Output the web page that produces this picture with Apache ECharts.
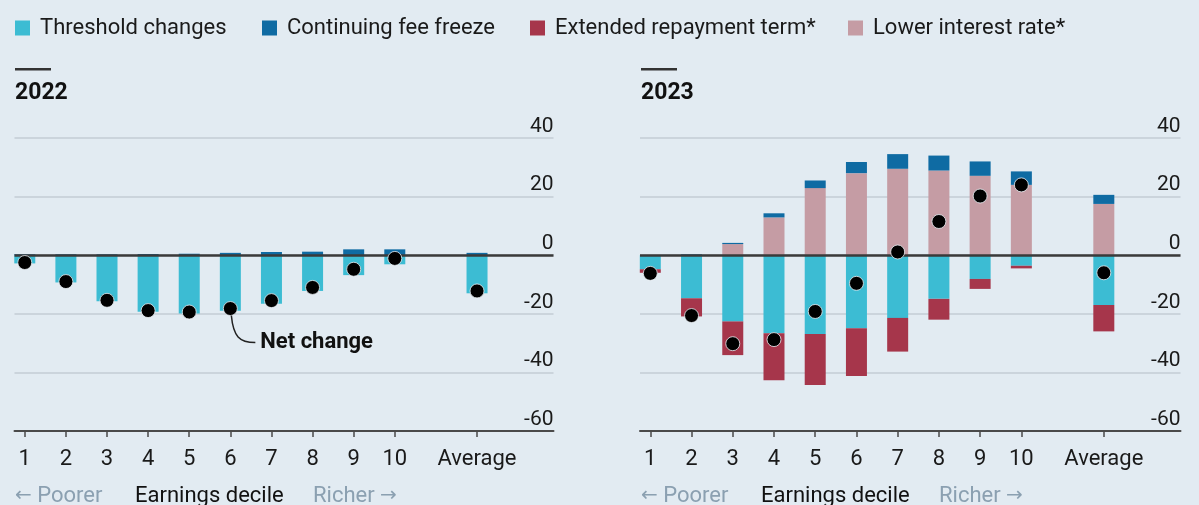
<!DOCTYPE html>
<html><head><meta charset="utf-8">
<script src="https://cdn.jsdelivr.net/npm/echarts@6/dist/echarts.min.js"></script>
<style>html,body{margin:0;padding:0;background:#e2ebf2;}#c{width:1199px;height:505px;}</style>
</head><body><div id="c"></div>
<script>
// ---- data ----
const categories = ['1','2','3','4','5','6','7','8','9','10','','Average'];
const yTickMin = -60, yTickMax = 40, yTickStep = 20;
const seriesNames = ['Threshold changes','Continuing fee freeze','Extended repayment term*','Lower interest rate*'];

const threshold2022 = [-2.8, -9.3, -15.7, -19.3, -19.9, -19.0, -16.6, -12.2, -6.8, -3.1, null, -13.0];
const feeFreeze2022 = [0.3, 0.3, 0.3, 0.4, 0.5, 0.8, 1.1, 1.2, 2.0, 2.0, null, 0.8];
const net2022       = [-2.5, -9.0, -15.4, -18.9, -19.4, -18.2, -15.5, -11.0, -4.8, -1.1, null, -12.2];

const threshold2023 = [-4.8, -14.7, -22.6, -26.6, -26.9, -24.9, -21.4, -14.9, -8.1, -3.6, null, -17.0];
const feeFreeze2023 = [0, 0.3, 0.4, 1.4, 2.6, 3.8, 5.0, 5.1, 4.9, 4.6, null, 3.1];
const repayment2023 = [-1.2, -6.2, -11.5, -16.1, -17.4, -16.3, -11.5, -7.1, -3.4, -0.9, null, -9.0];
const lowerRate2023 = [0, 0, 3.8, 12.9, 22.9, 28.0, 29.5, 28.9, 27.1, 24.0, null, 17.5];
const net2023       = [-6.2, -20.6, -30.2, -28.8, -19.2, -9.6, 1.1, 11.5, 20.2, 24.0, null, -6.0];

// ---- styles ----
const C_THRESH = '#3cbcd3', C_FREEZE = '#0f6ba3', C_REPAY = '#a6364b', C_LOWER = '#c59ca4';
const FONT = 'Roboto, "Noto Sans", sans-serif';
const positions = categories.map((c, i) => c ? i + 1 : null).filter(v => v !== null);
// value first, position second, so the stacked dimension is the value
const toPairs = arr => arr.map((v, i) => v === null ? null : [v, i + 1]).filter(d => d !== null);

function xAxisFor(gi) {
  return {
    type: 'value', gridIndex: gi, min: 0.75, max: 13.86,
    axisLine: { show: true, onZero: false, lineStyle: { color: '#4a4a4a', width: 2 } },
    axisTick: { show: true, customValues: positions, length: 6, lineStyle: { color: '#4a4a4a', width: 1.5 } },
    axisLabel: { customValues: positions, formatter: v => categories[Math.round(v) - 1], fontSize: 22, color: '#1a1a1a', fontFamily: FONT, margin: 17 },
    splitLine: { show: false }
  };
}
function yAxisFor(gi) {
  return {
    type: 'value', gridIndex: gi, position: 'right', min: yTickMin, max: yTickMax, interval: yTickStep,
    axisLine: { show: false }, axisTick: { show: false },
    axisLabel: { inside: true, align: 'right', verticalAlign: 'bottom', margin: 0, padding: [0, 0, 1, 0], fontSize: 21, color: '#1a1a1a', fontFamily: FONT },
    splitLine: { show: true, lineStyle: { color: '#c3cdd5', width: 1.5 } }
  };
}
const zeroLine = { silent: true, symbol: 'none', z: 5, label: { show: false }, lineStyle: { color: '#3a3a3a', width: 2.5, type: 'solid' }, data: [{ yAxis: 0 }] };
function bar(name, data, gi, stack, color, extra) {
  return Object.assign({ name, type: 'bar', xAxisIndex: gi, yAxisIndex: gi, stack, barWidth: 21, data: toPairs(data),
    encode: { x: 1, y: 0 }, itemStyle: { color }, emphasis: { disabled: true } }, extra || {});
}
function dots(data, gi) {
  return { name: 'Net change', type: 'scatter', xAxisIndex: gi, yAxisIndex: gi, z: 10, symbolSize: 14, data: toPairs(data),
    encode: { x: 1, y: 0 },
    itemStyle: { color: '#000', opacity: 1, borderColor: 'rgba(235,240,245,0.8)', borderWidth: 1 } };
}

const legendLefts = [15, 262, 530, 848];
const legends = seriesNames.map((n, i) => ({
  data: [n], left: legendLefts[i], top: 17, padding: 0, icon: 'rect', itemWidth: 15, itemHeight: 15, itemGap: 0,
  selectedMode: false, textStyle: { fontSize: 22, color: '#1a1a1a', fontFamily: FONT, padding: [0, 0, 0, 5] }
}));

const chart = echarts.init(document.getElementById('c'));
const option = {
  backgroundColor: '#e2ebf2',
  animation: false,
  legend: legends,
  grid: [
    { left: 14.5, width: 539, top: 138, height: 293 },
    { left: 640, width: 540.5, top: 138, height: 293 }
  ],
  xAxis: [xAxisFor(0), xAxisFor(1)],
  yAxis: [yAxisFor(0), yAxisFor(1)],
  series: [
    bar(seriesNames[0], threshold2022, 0, 's22', C_THRESH, { markLine: zeroLine }),
    bar(seriesNames[1], feeFreeze2022, 0, 's22', C_FREEZE),
    dots(net2022, 0),
    bar(seriesNames[0], threshold2023, 1, 's23', C_THRESH, { markLine: zeroLine }),
    bar(seriesNames[2], repayment2023, 1, 's23', C_REPAY),
    bar(seriesNames[3], lowerRate2023, 1, 's23', C_LOWER),
    bar(seriesNames[1], feeFreeze2023, 1, 's23', C_FREEZE),
    dots(net2023, 1)
  ]
};
chart.setOption(option);

// ---- annotations / titles ----
function panelText(x0, title) {
  const grey = '#8ba0b1';
  const rich = { a: { fontFamily: '"DejaVu Sans", sans-serif', fontSize: 20, fill: grey }, t: { fontFamily: FONT, fontSize: 22, fill: grey } };
  return [
    { type: 'rect', left: x0, top: 68, shape: { width: 36, height: 2.5 }, style: { fill: '#333' } },
    { type: 'text', left: x0, top: 82, style: { text: title, font: 'bold 23px ' + FONT, fill: '#111' } },
    { type: 'text', left: x0, top: 485, style: { text: '{a|←}{t| Poorer}', rich } },
    { type: 'text', left: x0 + 120, top: 485, style: { text: 'Earnings decile', font: '22px ' + FONT, fill: '#111' } },
    { type: 'text', left: x0 + 298, top: 485, style: { text: '{t|Richer }{a|→}', rich } }
  ];
}
const p = chart.convertToPixel({ gridIndex: 0 }, [6, net2022[5]]);
const graphics = panelText(15, '2022').concat(panelText(641, '2023')).concat([
  { type: 'bezierCurve', shape: { x1: p[0] + 1, y1: p[1] + 7, cpx1: p[0] + 3, cpy1: p[1] + 28, cpx2: p[0] + 9, cpy2: p[1] + 34, x2: p[0] + 25, y2: p[1] + 34 },
    style: { stroke: '#222', lineWidth: 1.5, fill: null }, z: 20 },
  { type: 'text', x: p[0] + 30, y: p[1] + 34, style: { text: 'Net change', font: 'bold 22px ' + FONT, fill: '#111', verticalAlign: 'middle' }, z: 20 }
]);
chart.setOption({ graphic: graphics });
</script>
</body></html>
